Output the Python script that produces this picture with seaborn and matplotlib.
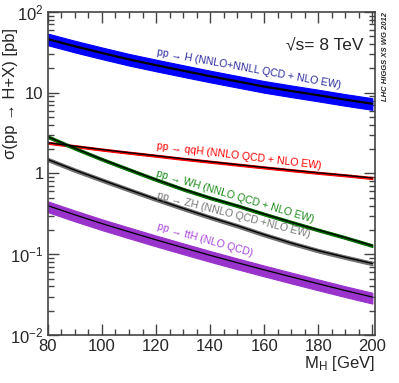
import matplotlib

matplotlib.use("Agg")

import matplotlib.pyplot as plt
import matplotlib.ticker as mticker
import pandas as pd
import seaborn as sns

# Higgs mass points [GeV] and cross sections [pb]
mass = [80, 90, 100, 110, 120, 130, 140, 150, 160, 170, 180, 190, 200]
xs_ggh = [46.0, 37.5, 31.0, 25.8, 21.9, 18.7, 16.0, 13.8, 11.9, 10.5, 9.3, 8.2, 7.3]
xs_qqh = [2.40, 2.18, 1.98, 1.81, 1.66, 1.52, 1.40, 1.29, 1.19, 1.10, 1.02, 0.95, 0.88]
xs_wh = [2.85, 2.05, 1.50, 1.12, 0.84, 0.64, 0.50, 0.40, 0.315, 0.25, 0.20, 0.161, 0.128]
xs_zh = [1.49, 1.10, 0.83, 0.63, 0.48, 0.37, 0.287, 0.226, 0.175, 0.138, 0.111, 0.092, 0.077]
xs_tth = [0.40, 0.308, 0.240, 0.190, 0.151, 0.121, 0.0972, 0.0788, 0.0642, 0.0526, 0.0432, 0.0356, 0.0296]

# relative uncertainty (up, down)
unc_ggh = (0.17, 0.16)
unc_qqh = (0.03, 0.03)
unc_wh = (0.04, 0.04)
unc_zh = (0.05, 0.05)
unc_tth = (0.13, 0.17)

labels = [
    "pp → H (NNLO+NNLL QCD + NLO EW)",
    "pp → qqH (NNLO QCD + NLO EW)",
    "pp → WH (NNLO QCD + NLO EW)",
    "pp → ZH (NNLO QCD +NLO EW)",
    "pp → ttH (NLO QCD)",
]

sns.set_theme(style="ticks")
plt.rcParams["font.family"] = ["Liberation Sans", "DejaVu Sans"]
plt.rcParams["mathtext.default"] = "regular"

fig = plt.figure(figsize=(3.99, 3.83), dpi=100)
ax = fig.add_axes([0.120, 0.125, 0.820, 0.844])

procs = [
    ("ggH", xs_ggh, unc_ggh, "#0000ff", 1.6),
    ("qqH", xs_qqh, unc_qqh, "#ff0000", 1.0),
    ("WH", xs_wh, unc_wh, "#007000", 1.0),
    ("ZH", xs_zh, unc_zh, "#6e6e6e", 1.0),
    ("ttH", xs_tth, unc_tth, "#9933cc", 0.9),
]

for name, xs, (up, dn), color, lw in procs:
    df = pd.DataFrame({"mH": mass, "xs": xs})
    df["hi"] = df["xs"] * (1 + up)
    df["lo"] = df["xs"] * (1 - dn)
    ax.fill_between(df["mH"], df["lo"], df["hi"], color=color, lw=0.8,
                    edgecolor=color)
    sns.lineplot(data=df, x="mH", y="xs", color="black", lw=lw, ax=ax)

ax.set_yscale("log")
ax.set_xlim(80, 201)
ax.set_ylim(1e-2, 1e2)

ytick_vals = [1e-2, 1e-1, 1, 10, 100]
ytick_text = ["$10^{-2}$", "$10^{-1}$", "1", "10", "$10^{2}$"]
ax.yaxis.set_major_locator(mticker.FixedLocator(ytick_vals))
ax.yaxis.set_major_formatter(mticker.FixedFormatter(ytick_text))
ax.yaxis.set_minor_locator(mticker.LogLocator(base=10, subs=range(2, 10)))
ax.yaxis.set_minor_formatter(mticker.NullFormatter())
ax.xaxis.set_major_locator(mticker.MultipleLocator(20))
ax.xaxis.set_minor_locator(mticker.MultipleLocator(5))

ax.tick_params(which="both", direction="in", top=True, right=True,
               labelsize=12, color="#444444", pad=3)
ax.tick_params(which="major", length=8, width=1)
ax.tick_params(which="minor", length=4, width=1)
for sp in ax.spines.values():
    sp.set_linewidth(1.2)
    sp.set_color("#444444")

ax.set_xlabel("M$_H$ [GeV]", fontsize=12, loc="right", labelpad=0)
ax.set_ylabel("σ(pp → H+X) [pb]", fontsize=12)
ax.yaxis.set_label_coords(-0.115, 0.95)
ax.yaxis.label.set_ha("right")
ax.yaxis.label.set_va("center")

label_pos = [
    (120.0, 29.4, -10.3, "#2a2aa0"),
    (120.0, 2.03, -6.9, "#ff0000"),
    (120.0, 0.94, -16.5, "#1a8a1a"),
    (120.3, 0.495, -14.5, "#777777"),
    (120.3, 0.208, -16.0, "#aa44dd"),
]
for text, (x, y, rot, c) in zip(labels, label_pos):
    ax.text(x, y, text, color=c, fontsize=7.6, rotation=rot,
            rotation_mode="anchor", ha="left", va="baseline")

ax.text(0.727, 0.885, "√s= 8 TeV", transform=ax.transAxes,
        fontsize=12.5, ha="left", va="baseline")
fig.text(0.967, 0.969, "LHC HIGGS XS WG 2012", rotation=90, fontsize=5.5,
         fontweight="bold", fontstyle="italic", ha="center", va="top")

fig.savefig("out.png", dpi=100)
